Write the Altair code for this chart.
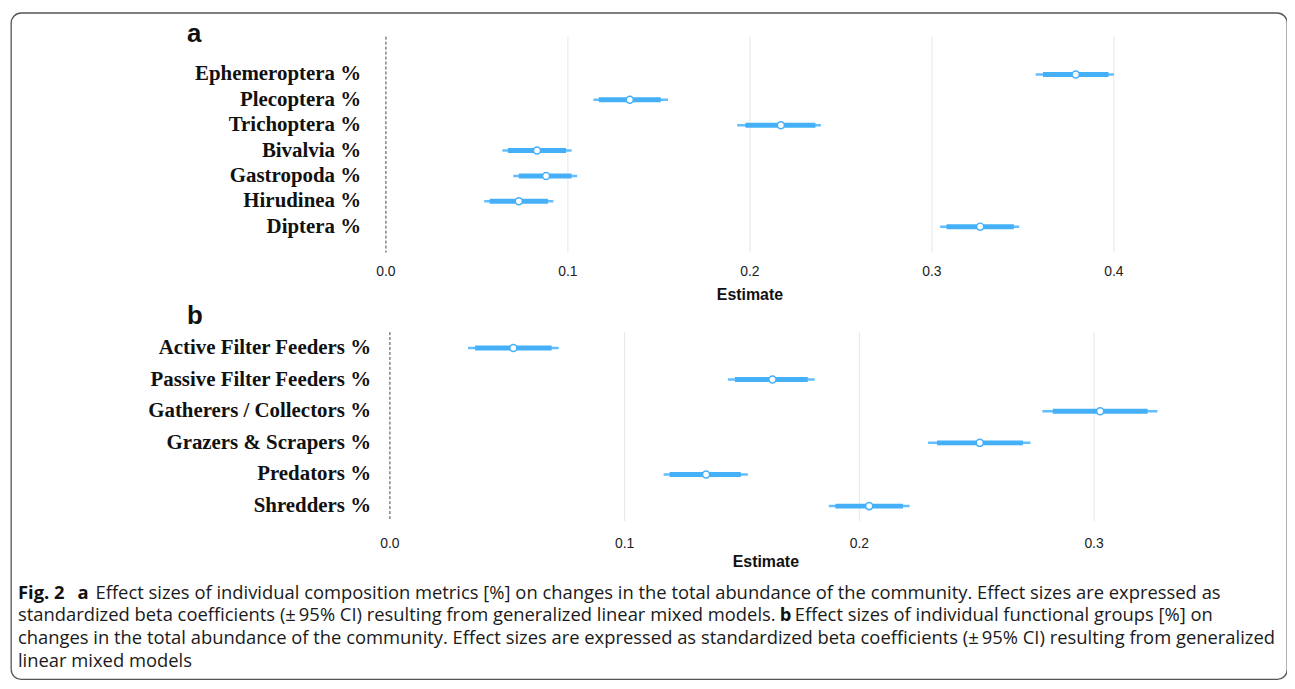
import altair as alt
import pandas as pd

# ---------------- data ----------------
a_labels = ["Ephemeroptera %", "Plecoptera %", "Trichoptera %", "Bivalvia %",
            "Gastropoda %", "Hirudinea %", "Diptera %"]
a_est = [0.379, 0.134, 0.217, 0.083, 0.088, 0.073, 0.3265]
a_lo95 = [0.357, 0.114, 0.193, 0.064, 0.070, 0.054, 0.3045]
a_hi95 = [0.400, 0.155, 0.239, 0.102, 0.105, 0.092, 0.348]
a_lo_in = [0.361, 0.117, 0.1975, 0.067, 0.073, 0.057, 0.308]
a_hi_in = [0.397, 0.151, 0.236, 0.099, 0.102, 0.089, 0.345]
a_ticks = [0.0, 0.1, 0.2, 0.3, 0.4]

b_labels = ["Active Filter Feeders %", "Passive Filter Feeders %",
            "Gatherers / Collectors %", "Grazers & Scrapers %",
            "Predators %", "Shredders %"]
b_est = [0.0526, 0.163, 0.3026, 0.2513, 0.1347, 0.2042]
b_lo95 = [0.0333, 0.144, 0.278, 0.2293, 0.1166, 0.187]
b_hi95 = [0.0719, 0.181, 0.327, 0.2729, 0.1525, 0.2214]
b_lo_in = [0.0363, 0.147, 0.2824, 0.2331, 0.1192, 0.1898]
b_hi_in = [0.0689, 0.178, 0.3228, 0.2697, 0.1495, 0.2186]
b_ticks = [0.0, 0.1, 0.2, 0.3]

caption_text = [
    "Fig. 2", "a",
    "Effect sizes of individual composition metrics [%] on changes in the total abundance of the community. Effect sizes are expressed as",
    "standardized beta coefficients (\u00b1\u200995% CI) resulting from generalized linear mixed models.", "b",
    "Effect sizes of individual functional groups [%] on",
    "changes in the total abundance of the community. Effect sizes are expressed as standardized beta coefficients (\u00b1\u200995% CI) resulting from generalized",
    "linear mixed models",
]
caption_bold = [True, True, False, False, True, False, False, False]
caption_line = [0, 0, 0, 1, 1, 1, 2, 3]
caption_x = [7, 67, 85, 7, 773, 788, 7, 7]

# ---------------- styles ----------------
BLUE = "#45B0F8"
BLUE_THIN = "#62BEFF"
SERIF = "Liberation Serif"
SANS_N = "Liberation Sans Narrow, Liberation Sans, Arial"
SANS = "Liberation Sans, Arial"
CAP = "Open Sans"
W, H = 1283, 670

def panel(labels, est, lo95, hi95, lo_in, hi_in, ticks, x_rng, y_rng, grid_y, tick_y,
          est_xy, letter, letter_y, label_x):
    df = pd.DataFrame({"label": labels, "est": est, "lo95": lo95, "hi95": hi95,
                       "lo_in": lo_in, "hi_in": hi_in})
    tdf = pd.DataFrame({"tick": ticks})
    dom = [ticks[0], ticks[-1]]
    xs = alt.Scale(domain=dom, range=x_rng, zero=False, nice=False)
    ys = alt.Scale(type="point", domain=labels, range=y_rng, padding=0)

    grid = alt.Chart(tdf).transform_filter("datum.tick > 0").mark_rule(
        color="#e6e6e6", strokeWidth=1).encode(
        x=alt.X("tick:Q", scale=xs, axis=None),
        y=alt.value(grid_y[0]), y2=alt.value(grid_y[1]))
    zero = alt.Chart(tdf).transform_filter("datum.tick == 0").mark_rule(
        color="#444444", strokeWidth=1, strokeDash=[3, 2]).encode(
        x=alt.X("tick:Q", scale=xs, axis=None),
        y=alt.value(grid_y[0]), y2=alt.value(grid_y[1]))
    ticklab = alt.Chart(tdf).mark_text(
        font=SANS_N, fontSize=14, color="#222222", baseline="middle").encode(
        x=alt.X("tick:Q", scale=xs, axis=None),
        y=alt.value(tick_y),
        text=alt.Text("tick:Q", format=".1f"))
    thin = alt.Chart(df).mark_rule(color=BLUE_THIN, strokeWidth=2.5).encode(
        x=alt.X("lo95:Q", scale=xs, axis=None), x2="hi95:Q",
        y=alt.Y("label:N", scale=ys, axis=None))
    thick = alt.Chart(df).mark_rule(color=BLUE, strokeWidth=5).encode(
        x=alt.X("lo_in:Q", scale=xs, axis=None), x2="hi_in:Q",
        y=alt.Y("label:N", scale=ys, axis=None))
    pts = alt.Chart(df).mark_point(shape="circle", filled=True, fill="white",
                                   stroke=BLUE, strokeWidth=1.5, size=50, opacity=1).encode(
        x=alt.X("est:Q", scale=xs, axis=None),
        y=alt.Y("label:N", scale=ys, axis=None))
    ylab = alt.Chart(df).mark_text(font=SERIF, fontWeight="bold", fontSize=21,
                                   align="right", baseline="middle", color="#111111").encode(
        x=alt.value(label_x),
        y=alt.Y("label:N", scale=ys, axis=None),
        text="label:N")
    title = alt.Chart(pd.DataFrame({"t": ["Estimate"]})).mark_text(
        font=SANS, fontWeight="bold", fontSize=16, color="#111111", baseline="middle").encode(
        x=alt.value(est_xy[0]), y=alt.value(est_xy[1]), text="t:N")
    let = alt.Chart(pd.DataFrame({"t": [letter]})).mark_text(
        font=SANS, fontWeight="bold", fontSize=26, color="#111111", align="left",
        baseline="middle").encode(
        x=alt.value(177), y=alt.value(letter_y), text="t:N")
    return [grid, zero, ticklab, thin, thick, pts, ylab, title, let]

layers_a = panel(a_labels, a_est, a_lo95, a_hi95, a_lo_in, a_hi_in, a_ticks,
                 [377, 1109], [62, 215], (24, 241), 261, (743, 284), "a", 21, 352)
layers_b = panel(b_labels, b_est, b_lo95, b_hi95, b_lo_in, b_hi_in, b_ticks,
                 [381, 1089], [337, 496], (321, 511), 534, (759, 552), "b", 305, 362)

cap_df = pd.DataFrame({"text": caption_text, "bold": caption_bold,
                       "line": caption_line, "px": caption_x})
line_y = alt.Scale(domain=[0, 3], range=[583, 652], zero=False, nice=False)
px_s = alt.Scale(domain=[0, W], range=[0, W], zero=False, nice=False)
cap_bold = alt.Chart(cap_df).transform_filter("datum.bold").mark_text(
    font=CAP, fontWeight="bold", fontSize=18.5, align="left", baseline="middle",
    color="#111111").encode(
    x=alt.X("px:Q", scale=px_s, axis=None),
    y=alt.Y("line:Q", scale=line_y, axis=None), text="text:N")
cap_norm = alt.Chart(cap_df).transform_filter("!datum.bold").mark_text(
    font=CAP, fontSize=18.5, align="left", baseline="middle",
    color="#1a1a1a").encode(
    x=alt.X("px:Q", scale=px_s, axis=None),
    y=alt.Y("line:Q", scale=line_y, axis=None), text="text:N")

chart = alt.layer(*layers_a, *layers_b, cap_bold, cap_norm).resolve_scale(
    x="independent", y="independent"
).properties(
    width=W, height=H,
    background="white",
    autosize=alt.AutoSizeParams(type="none"),
    padding={"left": 3, "top": 3, "right": 0, "bottom": 0},
).configure_view(
    stroke="#555555", strokeWidth=1.3, cornerRadius=10
)

chart.save("out.html", embed_options={"renderer": "svg", "actions": False})
